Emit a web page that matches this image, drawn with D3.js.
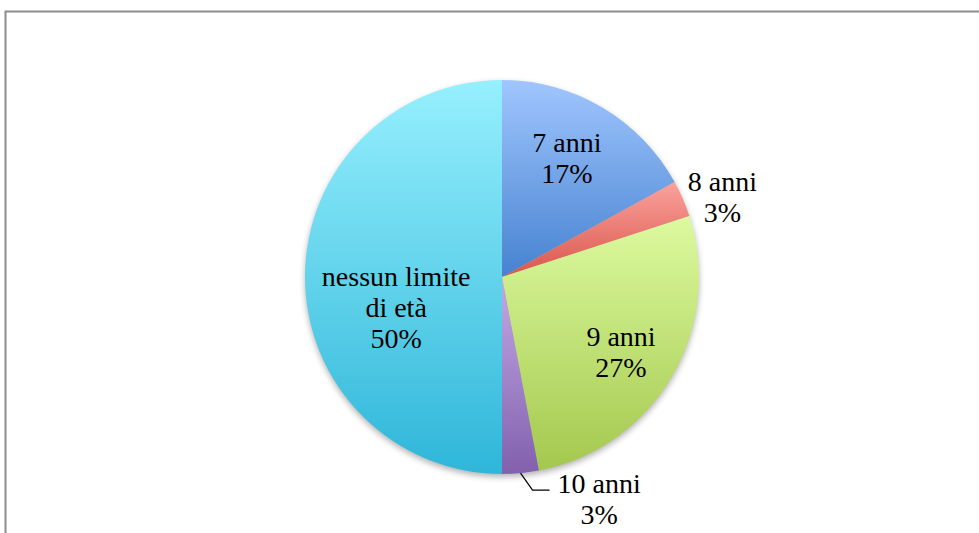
<!DOCTYPE html>
<html>
<head>
<meta charset="utf-8">
<script src="https://cdn.jsdelivr.net/npm/d3@7"></script>
<style>
  html, body { margin: 0; padding: 0; background: #fff; }
  svg { display: block; }
  text { font-family: "Times New Roman", Tinos, "DejaVu Serif", serif; fill: #000; }
</style>
</head>
<body>
<svg id="chart" width="979" height="533"></svg>
<script>
// Età minima per l'iscrizione (percentuali)
const categories = ["7 anni", "8 anni", "9 anni", "10 anni", "nessun limite di età"];
const labelLines = [["7 anni"], ["8 anni"], ["9 anni"], ["10 anni"], ["nessun limite", "di età"]];
const values = [17, 3, 27, 3, 50];
const gradTop = ["#a0c6fe", "#fba29c", "#dcfa9f", "#c2aae6", "#96f0fe"];
const gradBottom = ["#4682d0", "#d9564c", "#a4c84e", "#8260ad", "#2fb6d9"];

const W = 979, H = 533;
const cx = 502, cy = 277, R = 197;

const svg = d3.select("#chart");
const defs = svg.append("defs");

categories.forEach((c, i) => {
  const g = defs.append("linearGradient")
    .attr("id", "grad" + i)
    .attr("x1", 0).attr("y1", 0).attr("x2", 0).attr("y2", 1);
  g.append("stop").attr("offset", "0%").attr("stop-color", gradTop[i]);
  g.append("stop").attr("offset", "100%").attr("stop-color", gradBottom[i]);
});

const shadow = defs.append("filter").attr("id", "shadow")
  .attr("x", "-20%").attr("y", "-20%").attr("width", "140%").attr("height", "140%");
shadow.append("feGaussianBlur").attr("stdDeviation", 3);

// Chart area frame
svg.append("rect")
  .attr("x", 5.5).attr("y", 11.5)
  .attr("width", W + 10).attr("height", H + 10)
  .attr("fill", "none").attr("stroke", "#8c8c8c").attr("stroke-width", 2);

const g = svg.append("g").attr("transform", `translate(${cx},${cy})`);

// soft shadow under the pie
g.append("circle")
  .attr("cx", 0).attr("cy", 3).attr("r", R)
  .attr("fill", "#000").attr("opacity", 0.3)
  .attr("filter", "url(#shadow)");

const pie = d3.pie().sort(null).value(d => d);
const arcs = pie(values);
const arc = d3.arc().innerRadius(0).outerRadius(R);

g.selectAll("path.slice")
  .data(arcs)
  .join("path")
  .attr("class", "slice")
  .attr("d", arc)
  .attr("fill", (d, i) => `url(#grad${i})`);

// Label block centres: [angle in degrees clockwise from top, radius as fraction of R]
const labelPolar = [[28.5, 0.69], [70.1, 1.19], [122.2, 0.714], [156.4, 1.232], [253.7, 0.56]];
const lineH = 31;
const fontSize = 28;

arcs.forEach((d, i) => {
  const a = labelPolar[i][0] * Math.PI / 180;
  const r = R * labelPolar[i][1];
  const x = Math.sin(a) * r;
  const y = -Math.cos(a) * r;
  const lines = labelLines[i].concat([d3.format(".0%")(d.data / 100)]);
  const t = g.append("text")
    .attr("text-anchor", "middle")
    .attr("font-size", fontSize);
  const y0 = y + 9.5 - (lines.length - 1) * lineH / 2;
  lines.forEach((s, k) => {
    t.append("tspan").attr("x", x).attr("y", y0 + k * lineH).text(s);
  });
});

// Leader line for the small "10 anni" slice
const a10 = arcs[3];
const m10 = (a10.startAngle + a10.endAngle) / 2;
const p0 = [Math.sin(m10) * R, -Math.cos(m10) * R];
g.append("path")
  .attr("d", d3.line()([p0, [p0[0] + 12, p0[1] + 17], [p0[0] + 29, p0[1] + 17]]))
  .attr("fill", "none").attr("stroke", "#000").attr("stroke-width", 1.2);
</script>
</body>
</html>
